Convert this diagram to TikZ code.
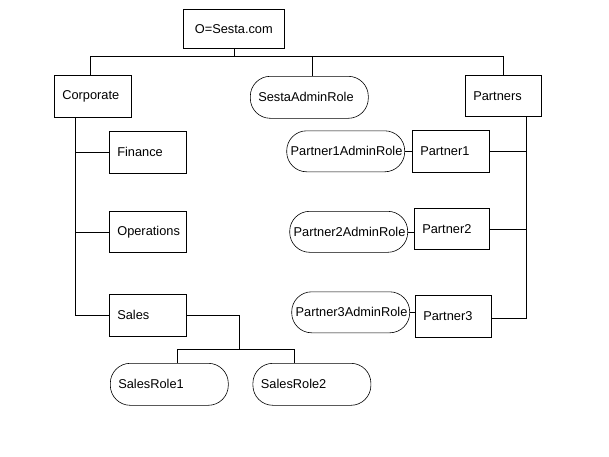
\documentclass[tikz,border=0pt]{standalone}
\usepackage{fontspec}
\setmainfont{Liberation Sans}
\usetikzlibrary{positioning}
\begin{document}
\begin{tikzpicture}[x=1pt,y=-1pt,node distance=0,line width=0.6pt,
  every node/.style={font=\fontsize{12.8}{15}\selectfont},
  unit/.style={draw,rectangle,anchor=north west,minimum height=42pt,text width=61pt,inner xsep=8pt,align=left},
  role/.style={draw,rectangle,rounded corners=20pt,minimum height=42pt,text width=102pt,inner xsep=8pt,align=left},
  wide/.style={text width=110pt,inner xsep=4pt}]
    \useasboundingbox (0,0) rectangle (609,456);
    % Place nodes
    \node [unit,text width=85pt,align=center,minimum height=39pt] (root) at (183,9) {O=Sesta.com};
    \node [unit] (corp) at (54,75) {Corporate};
    \node [role,anchor=north west] (sesta) at (250,76) {SestaAdminRole};
    \node [unit,text width=60pt,minimum height=41pt] (partners) at (465,75) {Partners};
    \node [unit] (fin) at (109,131) {Finance};
    \node [unit,minimum height=41pt] (ops) at (109,211) {Operations};
    \node [unit] (sales) at (109,294) {Sales};
    \node [role,anchor=north west] (sr1) at (110,363) {SalesRole1};
    \node [role,right=24pt of sr1] (sr2) {SalesRole2};
    \node [unit] (p1) at (412,130) {Partner1};
    \node [unit,text width=59pt,minimum height=41pt] (p2) at (414,208) {Partner2};
    \node [unit,text width=60pt] (p3) at (415,295) {Partner3};
    \node [role,wide,minimum height=41pt,left=7pt of p1] (p1r) {Partner1AdminRole};
    \node [role,wide,minimum height=41pt,left=6pt of p2,yshift=-3pt] (p2r) {Partner2AdminRole};
    \node [role,wide,minimum height=41pt,left=5pt of p3,yshift=4pt] (p3r) {Partner3AdminRole};
    % Connect nodes
    \coordinate (bus) at ([yshift=-8pt]root.south);
    \draw ([xshift=-3pt]corp.north) |- (bus) -| (partners.north);
    \draw (root.south) -- (bus) -| ([xshift=3pt]sesta.north);
    \coordinate (cs) at ([xshift=21pt]corp.south west);
    \draw (cs) |- (sales.west);
    \draw (fin.west) -- (fin.west -| cs);
    \draw (ops.west) -- (ops.west -| cs);
    \coordinate (sj) at ([xshift=53pt,yshift=-34pt]sales.east);
    \draw (sales.east) -| (sj);
    \draw ([xshift=67pt]sr1.north west) |- (sj) -| ([xshift=42pt]sr2.north west);
    \coordinate (ps) at ([xshift=-15pt]partners.south east);
    \draw (ps) |- ([yshift=-2pt]p3.east);
    \draw (p1.east) -- (p1.east -| ps);
    \draw (p2.east) -- (p2.east -| ps);
    \draw (p1r.east) -- (p1r.east -| p1.west);
    \draw (p2r.east) -- (p2r.east -| p2.west);
    \draw (p3r.east) -- (p3r.east -| p3.west);
\end{tikzpicture}
\end{document}
